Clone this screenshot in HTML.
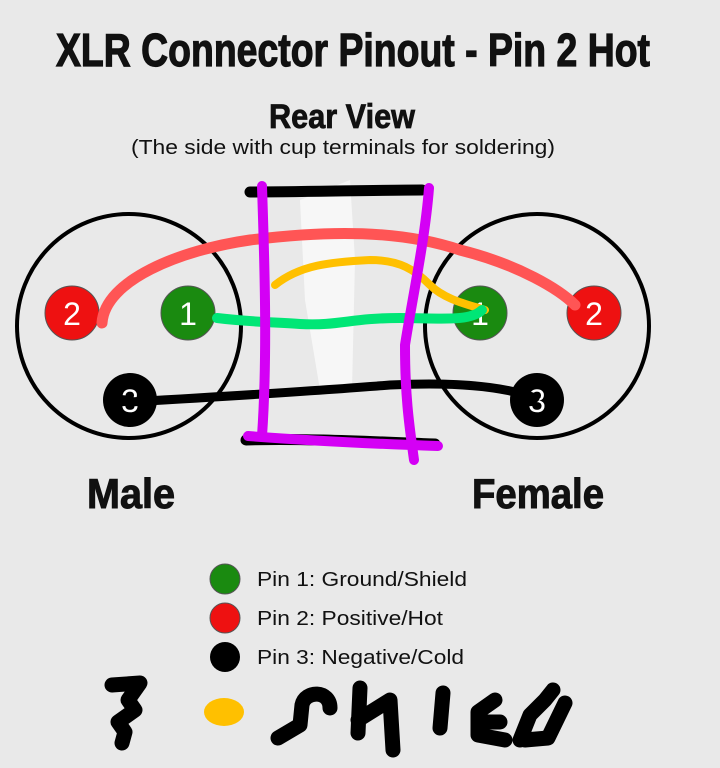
<!DOCTYPE html>
<html><head><style>
html,body{margin:0;padding:0;background:#e9e9e9;}
body{width:720px;height:768px;position:relative;overflow:hidden;font-family:"Liberation Sans",sans-serif;}
</style></head><body>
<svg width="720" height="768" style="position:absolute;left:0;top:0">
<text x="353" y="66" text-anchor="middle" font-family="Liberation Sans" font-weight="bold" font-size="46" textLength="594" lengthAdjust="spacingAndGlyphs" fill="#111" stroke="#111" stroke-width="1.2">XLR Connector Pinout - Pin 2 Hot</text>
<text x="342" y="128" text-anchor="middle" font-family="Liberation Sans" font-weight="bold" font-size="34" textLength="146" lengthAdjust="spacingAndGlyphs" fill="#111" stroke="#111" stroke-width="0.8">Rear View</text>
<text x="343" y="154" text-anchor="middle" font-family="Liberation Sans" font-size="20" textLength="424" lengthAdjust="spacingAndGlyphs" fill="#111">(The side with cup terminals for soldering)</text>
<text x="131" y="508" text-anchor="middle" font-family="Liberation Sans" font-weight="bold" font-size="42" textLength="88" lengthAdjust="spacingAndGlyphs" fill="#111" stroke="#111" stroke-width="1">Male</text>
<text x="538" y="508" text-anchor="middle" font-family="Liberation Sans" font-weight="bold" font-size="42" textLength="132" lengthAdjust="spacingAndGlyphs" fill="#111" stroke="#111" stroke-width="1">Female</text>
<path d="M300 200 L350 180 L355 260 L352 390 L320 390 L305 300 Z" fill="#f7f7f7"/>
<circle cx="129" cy="326" r="112" fill="none" stroke="#000" stroke-width="4"/>
<circle cx="537" cy="326" r="112" fill="none" stroke="#000" stroke-width="4"/>
<g font-family="Liberation Sans" font-size="32" fill="#fff" text-anchor="middle">
<circle cx="72" cy="313" r="27" fill="#ee1111" stroke="#555"/><text x="72" y="325">2</text>
<circle cx="188" cy="313" r="27" fill="#1a8a10" stroke="#555"/><text x="188" y="325">1</text>
<circle cx="130" cy="400" r="27" fill="#000"/><text x="130" y="412">3</text>
<circle cx="480" cy="313" r="27" fill="#1a8a10" stroke="#555"/><text x="480" y="325">1</text>
<circle cx="594" cy="313" r="27" fill="#ee1111" stroke="#555"/><text x="594" y="325">2</text>
<circle cx="537" cy="400" r="27" fill="#000"/><text x="537" y="412">3</text>
</g>
<g fill="none" stroke-linecap="round" stroke-linejoin="round">
<path d="M130 402 C250 395 330 390 390 385 C450 382 500 385 535 398" stroke="#000" stroke-width="9"/>
<path d="M102 323 C105 280 180 250 250 240 C330 230 400 230 460 250 C520 265 560 290 575 305" stroke="#ff5555" stroke-width="11"/>
<path d="M275 285 C300 265 330 262 370 260 C400 260 415 270 430 285 C445 300 470 305 485 310" stroke="#ffc000" stroke-width="8"/>
<path d="M217 318 C250 322 270 322 300 324 C340 326 350 318 400 318 C440 318 470 322 482 310" stroke="#00e676" stroke-width="10"/>
<path d="M250 192 C300 192 380 190 422 190" stroke="#000" stroke-width="11"/>
<path d="M246 440 C300 438 380 442 435 444" stroke="#000" stroke-width="11"/>
<path d="M248 436 C300 440 380 444 438 446" stroke="#d400f5" stroke-width="10"/>
<path d="M262 186 C264 250 268 350 262 436" stroke="#d400f5" stroke-width="10"/>
<path d="M429 188 C425 240 412 300 405 345 C405 400 410 430 414 460" stroke="#d400f5" stroke-width="10"/>
</g>
<circle cx="225" cy="579" r="15" fill="#1a8a10" stroke="#555"/>
<circle cx="225" cy="618" r="15" fill="#ee1111" stroke="#555"/>
<circle cx="225" cy="657" r="15" fill="#000"/>
<g font-family="Liberation Sans" font-size="20" fill="#111">
<text x="257" y="586" textLength="210" lengthAdjust="spacingAndGlyphs">Pin 1: Ground/Shield</text>
<text x="257" y="625" textLength="186" lengthAdjust="spacingAndGlyphs">Pin 2: Positive/Hot</text>
<text x="257" y="664" textLength="207" lengthAdjust="spacingAndGlyphs">Pin 3: Negative/Cold</text>
</g>
<g fill="none" stroke="#000" stroke-width="15" stroke-linecap="round" stroke-linejoin="round">
<path d="M112 685 L140 683 L128 700 L135 710 L118 722 L125 732 L122 743"/>
<path d="M278 738 L300 725 L302 705 C305 690 330 690 330 708"/>
<path d="M358 733 L360 688 M358 720 L390 700 L393 750"/>
<path d="M443 693 L440 728"/>
<path d="M495 700 L478 712 L478 735 L505 740 M482 722 L500 722"/>
<path d="M520 740 L530 715 L545 700 L553 690 M525 740 L548 738 L565 703"/>
</g>
<ellipse cx="224" cy="712" rx="20" ry="14" fill="#ffc000"/>
</svg>
</body></html>
